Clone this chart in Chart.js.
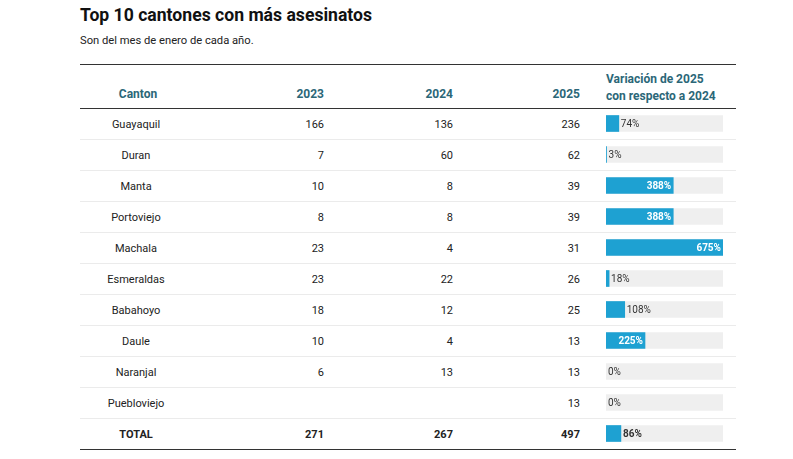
<!DOCTYPE html>
<html>
<head>
<meta charset="utf-8">
<script src="https://cdn.jsdelivr.net/npm/chart.js@4"></script>
<style>
  body { margin: 0; background: #fff; font-family: Roboto, sans-serif; color: #222; }
  #wrap { position: relative; width: 793px; height: 459px; overflow: hidden; }
  .t { position: absolute; white-space: nowrap; line-height: 1; }
  .line { position: absolute; left: 80px; width: 656px; height: 1px; }
  .hd { color: #2b6778; font-weight: bold; font-size: 12px; }
  #bars { position: absolute; left: 606px; top: 108px; }
</style>
</head>
<body>
<div id="wrap">
  <div class="t" style="left:80px;top:7px;font-size:17.6px;font-weight:bold;color:#111">Top 10 cantones con más asesinatos</div>
  <div class="t" style="left:80px;top:35px;font-size:11.2px;color:#222">Son del mes de enero de cada año.</div>
  <div class="line" style="top:64px;background:#333"></div>
  <div class="line" style="top:108px;background:#333"></div>
  <div class="line" style="top:449px;background:#333"></div>
  <div class="t hd" style="left:98px;width:80px;text-align:center;top:88px">Canton</div>
  <div class="t hd" style="right:469px;top:88px">2023</div>
  <div class="t hd" style="right:340px;top:88px">2024</div>
  <div class="t hd" style="right:213px;top:88px">2025</div>
  <div class="t hd" style="left:606px;top:71px;line-height:17px">Variación de 2025<br>con respecto a 2024</div>
  <div id="rows"></div>
  <canvas id="bars" width="117" height="341"></canvas>
</div>
<script>
var cantones = ['Guayaquil', 'Duran', 'Manta', 'Portoviejo', 'Machala', 'Esmeraldas', 'Babahoyo', 'Daule', 'Naranjal', 'Puebloviejo', 'TOTAL'];
var v2023 = [166, 7, 10, 8, 23, 23, 18, 10, 6, null, 271];
var v2024 = [136, 60, 8, 8, 4, 22, 12, 4, 13, null, 267];
var v2025 = [236, 62, 39, 39, 31, 26, 25, 13, 13, 13, 497];
var variacion = [74, 3, 388, 388, 675, 18, 108, 225, 0, 0, 86];
var maxVar = 675;

var rows = document.getElementById('rows');
var rowTop = 108, rowH = 31;
cantones.forEach(function (c, i) {
    var y = rowTop + i * rowH;
    var bold = c === 'TOTAL' ? 'font-weight:bold;' : '';
    var html = '';
    html += '<div class="t" style="' + bold + 'left:86px;width:100px;text-align:center;top:' + (y + 11) + 'px;font-size:11px">' + c + '</div>';
    if (v2023[i] !== null) html += '<div class="t" style="' + bold + 'right:469px;top:' + (y + 11) + 'px;font-size:11px">' + v2023[i] + '</div>';
    if (v2024[i] !== null) html += '<div class="t" style="' + bold + 'right:340px;top:' + (y + 11) + 'px;font-size:11px">' + v2024[i] + '</div>';
    html += '<div class="t" style="' + bold + 'right:213px;top:' + (y + 11) + 'px;font-size:11px">' + v2025[i] + '</div>';
    if (i < cantones.length - 1) html += '<div class="line" style="top:' + (y + rowH) + 'px;background:#ebebeb"></div>';
    rows.insertAdjacentHTML('beforeend', html);
});

var barLabels = {
    id: 'barLabels',
    afterDatasetsDraw: function (chart) {
        var ctx = chart.ctx;
        var meta = chart.getDatasetMeta(1);
        ctx.save();
        ctx.textBaseline = 'middle';
        meta.data.forEach(function (bar, i) {
            var txt = variacion[i] + '%';
            var bold = cantones[i] === 'TOTAL';
            ctx.font = (bold ? 'bold ' : '') + '10px Roboto';
            var w = ctx.measureText(txt).width;
            var x0 = chart.scales.x.getPixelForValue(0);
            if (bar.x - x0 > w + 8) {
                ctx.font = 'bold 10px Roboto';
                ctx.fillStyle = '#fff';
                ctx.textAlign = 'right';
                ctx.fillText(txt, bar.x - 2, bar.y + 0.5);
            } else {
                ctx.fillStyle = '#333';
                ctx.textAlign = 'left';
                ctx.fillText(txt, Math.max(bar.x, x0) + 2, bar.y + 0.5);
            }
        });
        ctx.restore();
    }
};

new Chart(document.getElementById('bars'), {
    type: 'bar',
    data: {
        labels: cantones,
        datasets: [
            {
                data: cantones.map(function () { return maxVar; }),
                backgroundColor: '#efefef',
                barThickness: 16,
                grouped: false,
                order: 2
            },
            {
                data: variacion,
                backgroundColor: function (c) {
                    return c.raw === 0 ? 'rgba(0,0,0,0)' : '#1ea1d2';
                },
                barThickness: 16,
                grouped: false,
                order: 1
            }
        ]
    },
    options: {
        indexAxis: 'y',
        responsive: false,
        animation: false,
        layout: { padding: 0 },
        plugins: { legend: { display: false }, tooltip: { enabled: false } },
        scales: {
            x: { display: false, min: 0, max: maxVar },
            y: { display: false }
        }
    },
    plugins: [barLabels]
});
</script>
</body>
</html>
